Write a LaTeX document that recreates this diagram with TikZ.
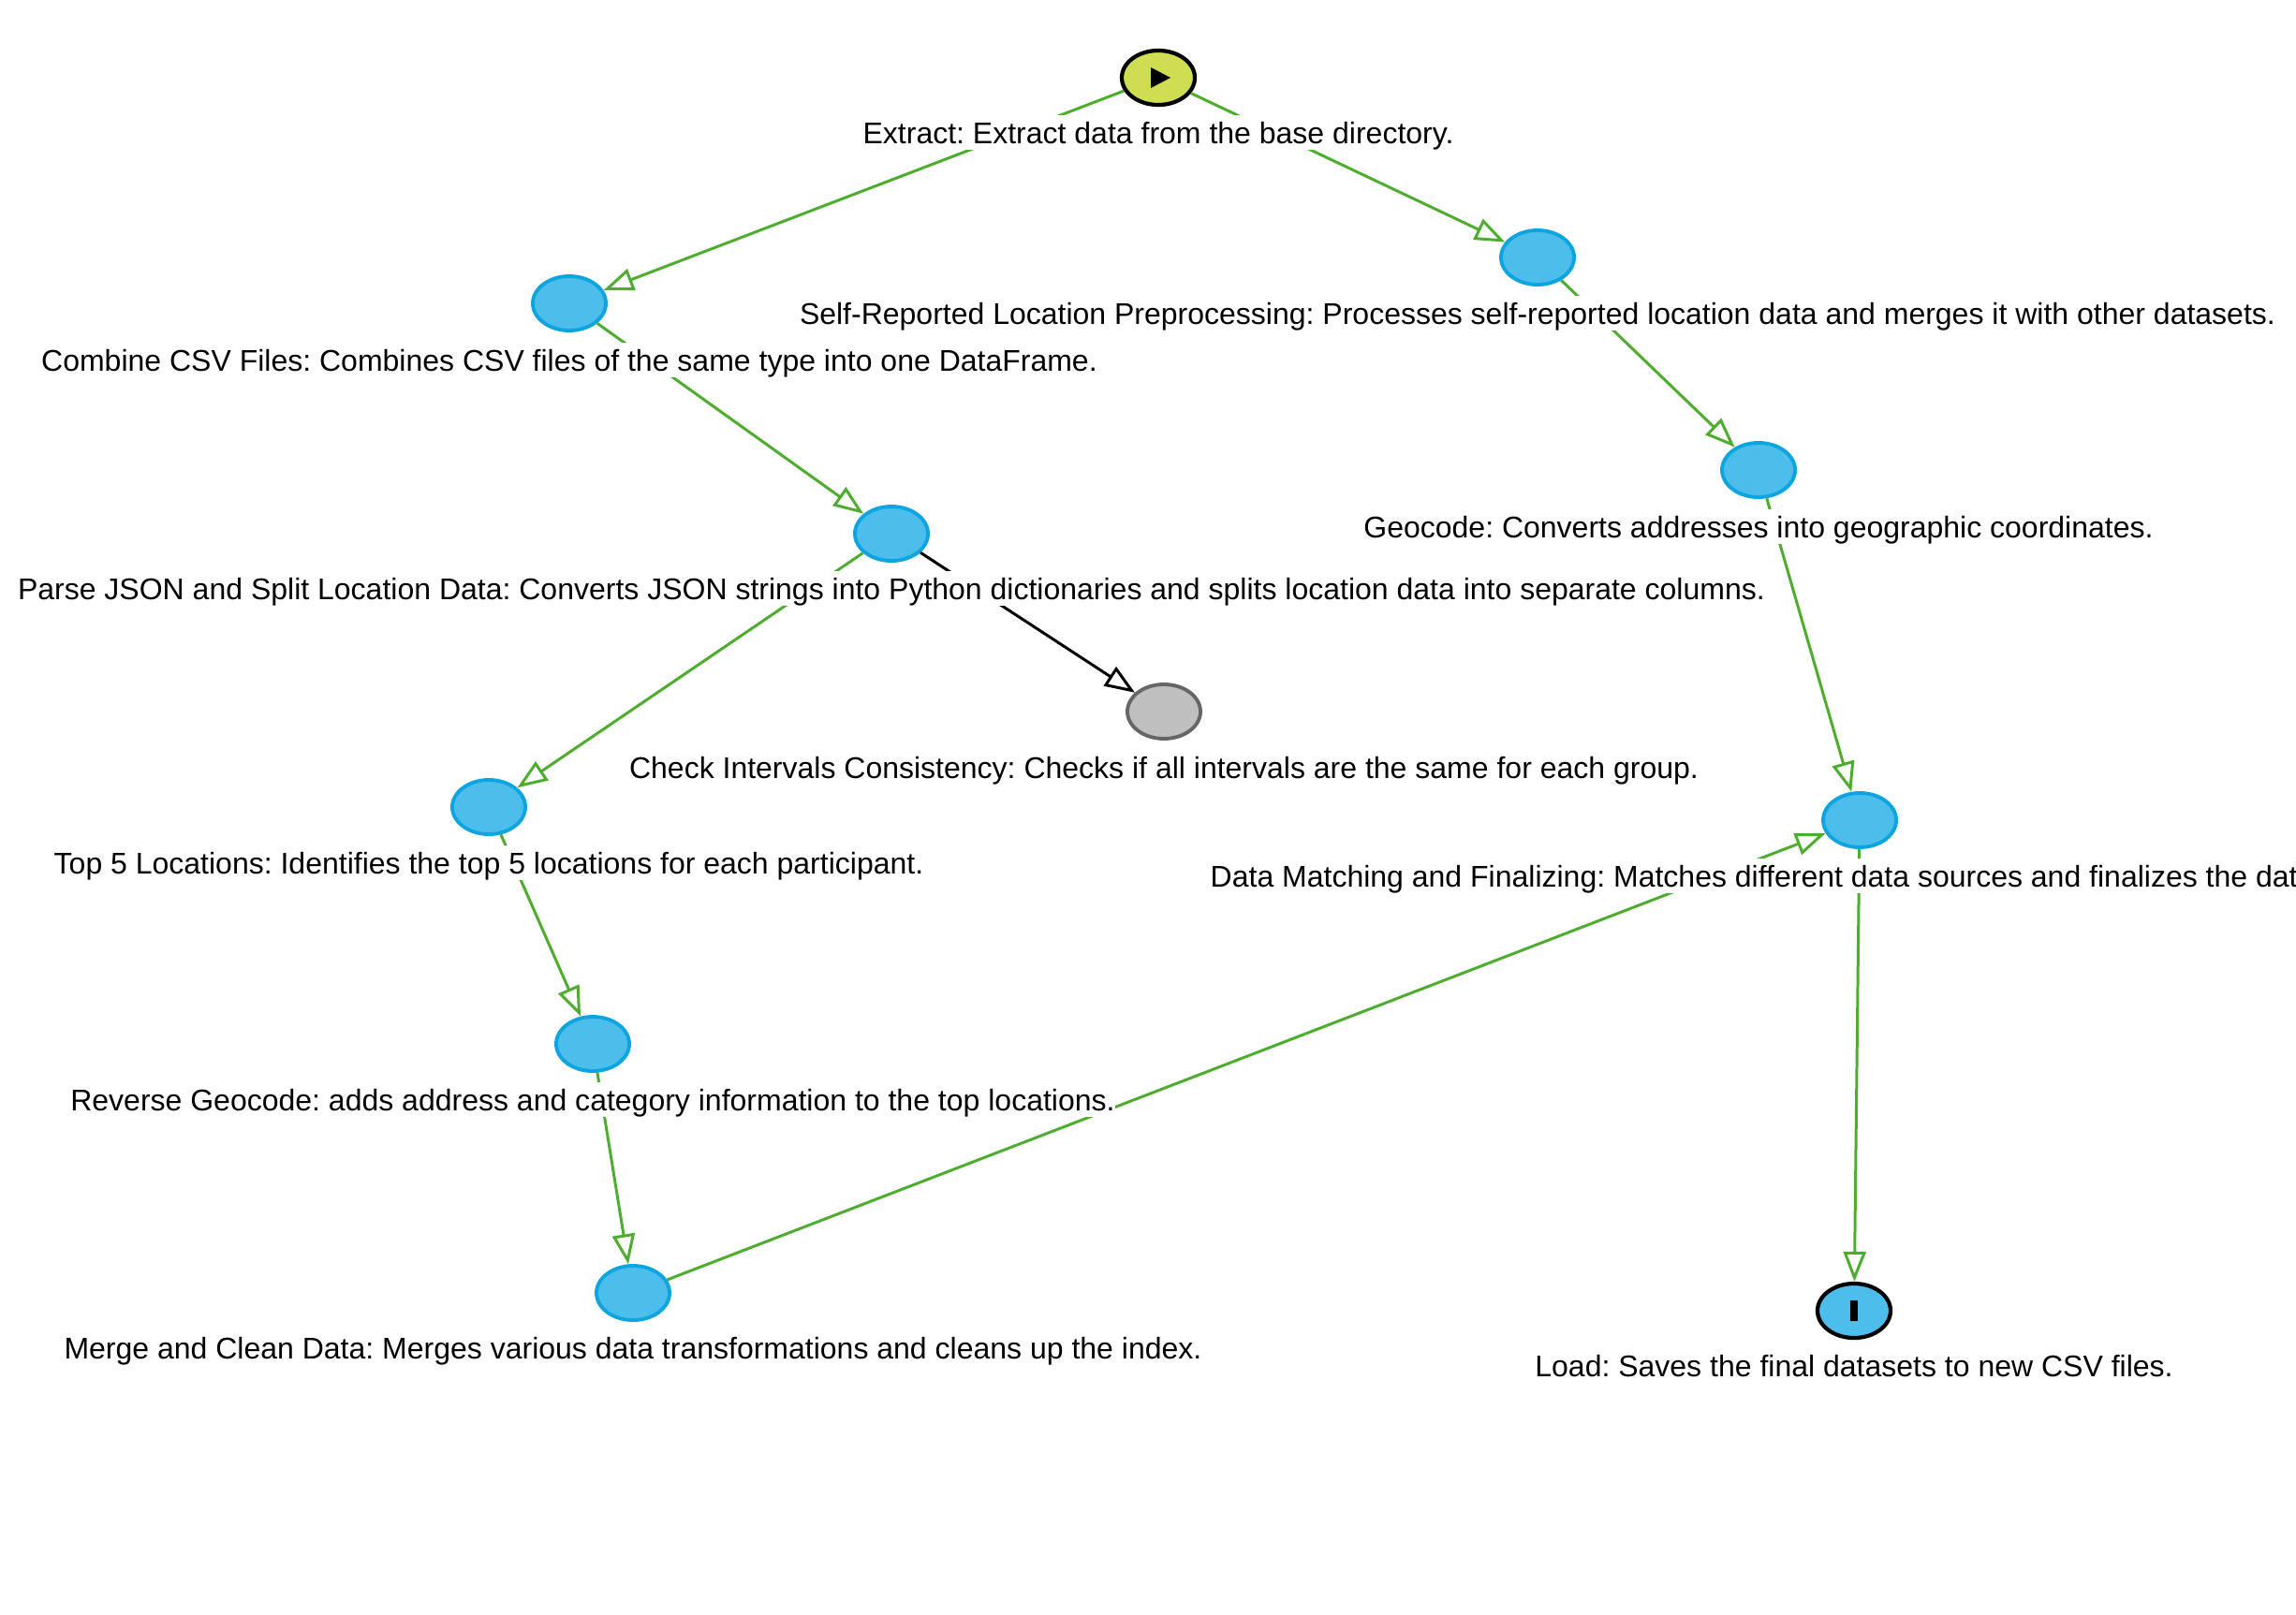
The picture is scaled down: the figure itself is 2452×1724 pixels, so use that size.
\documentclass[tikz,border=0pt]{standalone}
\usepackage{fontspec}
\setmainfont{Liberation Sans}
\usetikzlibrary{arrows.meta, shapes.geometric}
\definecolor{taskblue}{HTML}{4DBDEB}
\definecolor{taskline}{HTML}{0CA5DF}
\definecolor{startyellow}{HTML}{CFDD52}
\definecolor{flowgreen}{HTML}{4EAD2F}
\tikzset{
    task/.style={ellipse, minimum width=0.78cm, minimum height=0.58cm, inner sep=0pt, draw=taskline, fill=taskblue, line width=1.1pt},
    startnode/.style={task, draw=black, fill=startyellow, line width=1.2pt},
    endnode/.style={task, draw=black, line width=1.2pt},
    checknode/.style={task, draw=black!60, fill=black!25},
    flow/.style={draw=flowgreen, line width=0.85pt, -{Triangle[open, length=0.32cm, width=0.24cm]}},
    flowblack/.style={flow, draw=black},
    lbl/.style={fill=white, inner xsep=0pt, inner ysep=0pt, text height=0.30cm, text depth=0.07cm, font=\fontsize{9.1}{11}\selectfont}
}
\begin{document}
\frenchspacing
\begin{tikzpicture}[x=0.01cm, y=-0.01cm]
    \useasboundingbox (0,0) rectangle (2452,1724);

    \node[startnode] (extract) at (1237,83) {};
    \node[task] (combine) at (608,324) {};
    \node[task] (selfrep) at (1642,275) {};
    \node[task] (parse) at (952,570) {};
    \node[task] (geocode) at (1878,502) {};
    \node[checknode] (check) at (1243,760) {};
    \node[task] (top) at (522,862) {};
    \node[task] (matching) at (1986,876) {};
    \node[task] (reverse) at (633,1115) {};
    \node[task] (merge) at (676,1381) {};
    \node[endnode] (load) at (1980,1400) {};

    \fill ([shift={(-8,-11)}]extract.center) -- ([shift={(13,0)}]extract.center) -- ([shift={(-8,11)}]extract.center) -- cycle;
    \fill ([shift={(-4,-11)}]load.center) rectangle ([shift={(4,11)}]load.center);

    \draw[flow] (extract) -- (combine);
    \draw[flow] (extract) -- (selfrep);
    \draw[flow] (combine) -- (parse);
    \draw[flow] (selfrep) -- (geocode);
    \draw[flow] (parse) -- (top);
    \draw[flowblack] (parse) -- (check);
    \draw[flow] (geocode) -- (matching);
    \draw[flow] (top) -- (reverse);
    \draw[flow] (reverse) -- (merge);
    \draw[flow] (merge) -- (matching);
    \draw[flow] (matching) -- (load);

    \node[lbl] (extractlbl) at (1237,141.5) {Extract: Extract data from the base directory.};
    \node[lbl] (combinelbl) at (608,384.5) {Combine CSV Files: Combines CSV files of the same type into one DataFrame.};
    \node[lbl] (selfreplbl) at (1642,334.5) {Self-Reported Location Preprocessing: Processes self-reported location data and merges it with other datasets.};
    \node[lbl] (parselbl) at (952,628.5) {Parse JSON and Split Location Data: Converts JSON strings into Python dictionaries and splits location data into separate columns.};
    \node[lbl] (geocodelbl) at (1878,562.5) {Geocode: Converts addresses into geographic coordinates.};
    \node[lbl] (checklbl) at (1243,819.5) {Check Intervals Consistency: Checks if all intervals are the same for each group.};
    \node[lbl] (toplbl) at (522,921.5) {Top 5 Locations: Identifies the top 5 locations for each participant.};
    \node[lbl, anchor=west] (matchinglbl) at (1292,935.5) {Data Matching and Finalizing: Matches different data sources and finalizes the dat};
    \node[lbl] (reverselbl) at (633,1174.5) {Reverse Geocode: adds address and category information to the top locations.};
    \node[lbl] (mergelbl) at (676,1439.5) {Merge and Clean Data: Merges various data transformations and cleans up the index.};
    \node[lbl] (loadlbl) at (1980,1458.5) {Load: Saves the final datasets to new CSV files.};
\end{tikzpicture}
\end{document}
